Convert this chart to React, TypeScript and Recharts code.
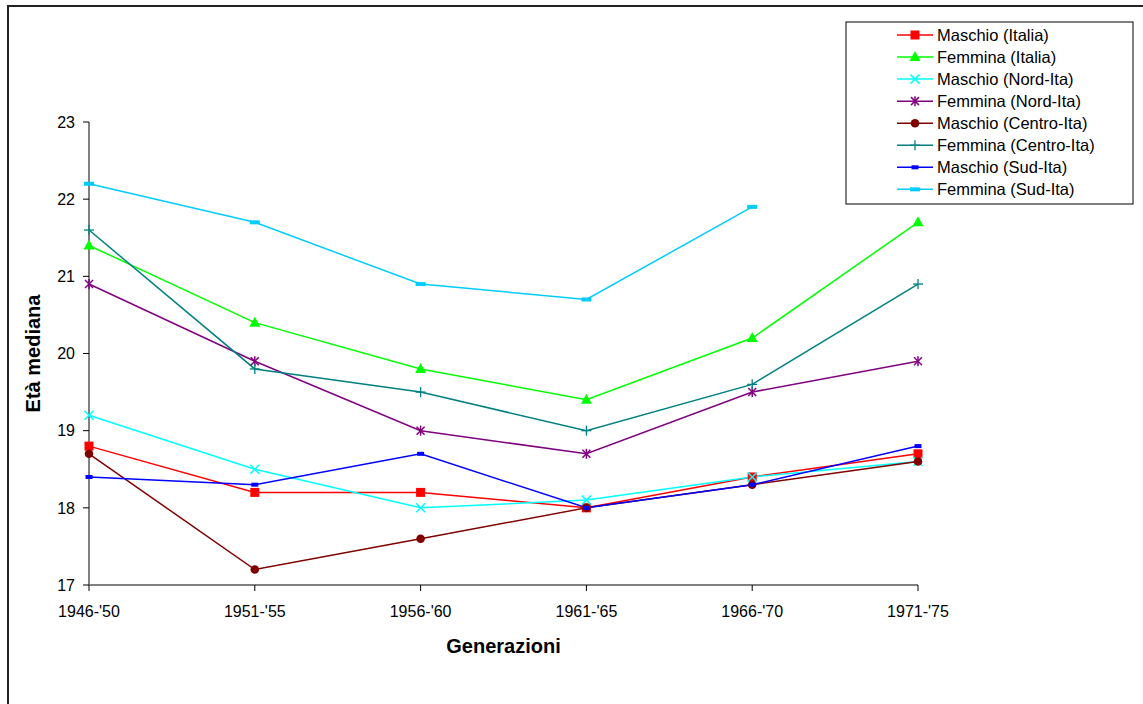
import React from 'react'
import { LineChart, Line, XAxis, YAxis } from 'recharts'

// Generazioni (x categories) and Y ticks
const CATEGORIES = ["1946-'50", "1951-'55", "1956-'60", "1961-'65", "1966-'70", "1971-'75"]
const Y_TICKS = [17, 18, 19, 20, 21, 22, 23]

// Età mediana per serie
const MASCHIO_ITALIA = [18.8, 18.2, 18.2, 18.0, 18.4, 18.7]
const FEMMINA_ITALIA = [21.4, 20.4, 19.8, 19.4, 20.2, 21.7]
const MASCHIO_NORD = [19.2, 18.5, 18.0, 18.1, 18.4, 18.6]
const FEMMINA_NORD = [20.9, 19.9, 19.0, 18.7, 19.5, 19.9]
const MASCHIO_CENTRO = [18.7, 17.2, 17.6, 18.0, 18.3, 18.6]
const FEMMINA_CENTRO = [21.6, 19.8, 19.5, 19.0, 19.6, 20.9]
const MASCHIO_SUD = [18.4, 18.3, 18.7, 18.0, 18.3, 18.8]
const FEMMINA_SUD = [22.2, 21.7, 20.9, 20.7, 21.9, null]

type Shape = 'square' | 'triangle' | 'x' | 'star' | 'circle' | 'plus' | 'smallRect' | 'wideRect'

const SERIES: { key: string; name: string; color: string; shape: Shape; values: (number | null)[] }[] = [
  { key: 'mi', name: 'Maschio (Italia)', color: '#ff0000', shape: 'square', values: MASCHIO_ITALIA },
  { key: 'fi', name: 'Femmina (Italia)', color: '#00ff00', shape: 'triangle', values: FEMMINA_ITALIA },
  { key: 'mn', name: 'Maschio (Nord-Ita)', color: '#00ffff', shape: 'x', values: MASCHIO_NORD },
  { key: 'fn', name: 'Femmina (Nord-Ita)', color: '#800080', shape: 'star', values: FEMMINA_NORD },
  { key: 'mc', name: 'Maschio (Centro-Ita)', color: '#800000', shape: 'circle', values: MASCHIO_CENTRO },
  { key: 'fc', name: 'Femmina (Centro-Ita)', color: '#008080', shape: 'plus', values: FEMMINA_CENTRO },
  { key: 'ms', name: 'Maschio (Sud-Ita)', color: '#0000ff', shape: 'smallRect', values: MASCHIO_SUD },
  { key: 'fs', name: 'Femmina (Sud-Ita)', color: '#00ccff', shape: 'wideRect', values: FEMMINA_SUD },
]

const data = CATEGORIES.map((cat, i) => {
  const row: Record<string, string | number | null> = { cat }
  SERIES.forEach((s) => {
    row[s.key] = s.values[i]
  })
  return row
})

const FONT = '"Liberation Sans", Arial, sans-serif'

function Marker({ shape, color, cx, cy }: { shape: Shape; color: string; cx: number; cy: number }) {
  switch (shape) {
    case 'square':
      return <rect x={cx - 4.5} y={cy - 4.5} width={9} height={9} fill={color} />
    case 'triangle':
      return (
        <polygon
          points={`${cx},${cy - 6} ${cx - 5.5},${cy + 4} ${cx + 5.5},${cy + 4}`}
          fill={color}
        />
      )
    case 'x':
      return (
        <g stroke={color} strokeWidth={1.5}>
          <line x1={cx - 4.5} y1={cy - 4.5} x2={cx + 4.5} y2={cy + 4.5} />
          <line x1={cx - 4.5} y1={cy + 4.5} x2={cx + 4.5} y2={cy - 4.5} />
        </g>
      )
    case 'star':
      return (
        <g stroke={color} strokeWidth={1.5}>
          <line x1={cx - 4} y1={cy - 4} x2={cx + 4} y2={cy + 4} />
          <line x1={cx - 4} y1={cy + 4} x2={cx + 4} y2={cy - 4} />
          <line x1={cx} y1={cy - 5} x2={cx} y2={cy + 5} />
        </g>
      )
    case 'circle':
      return <circle cx={cx} cy={cy} r={4.3} fill={color} />
    case 'plus':
      return (
        <g stroke={color} strokeWidth={1.3}>
          <line x1={cx - 5} y1={cy} x2={cx + 5} y2={cy} />
          <line x1={cx} y1={cy - 5} x2={cx} y2={cy + 5} />
        </g>
      )
    case 'smallRect':
      return <rect x={cx - 3.5} y={cy - 2} width={7} height={4} fill={color} />
    case 'wideRect':
      return <rect x={cx - 5} y={cy - 2} width={10} height={4} fill={color} />
  }
  return null
}

function LegendBox() {
  return (
    <svg
      width={290}
      height={186}
      style={{ position: 'absolute', left: 845, top: 21, fontFamily: FONT }}
    >
      <rect x={1} y={1} width={287} height={182} fill="#fff" stroke="#000" strokeWidth={1} />
      {SERIES.map((s, i) => {
        const cy = 14 + i * 22.05
        return (
          <g key={s.key}>
            <line x1={52} y1={cy} x2={88} y2={cy} stroke={s.color} strokeWidth={1.5} />
            <Marker shape={s.shape} color={s.color} cx={70} cy={cy} />
            <text x={92} y={cy + 5.5} fontSize={16.5} fill="#000">
              {s.name}
            </text>
          </g>
        )
      })}
    </svg>
  )
}

export default function App() {
  return (
    <div
      style={{
        position: 'fixed',
        left: 0,
        top: 0,
        width: 1143,
        height: 704,
        overflow: 'hidden',
        background: '#fff',
        fontFamily: FONT,
      }}
    >
      {/* outer chart frame; right and bottom edges fall outside the picture */}
      <div
        style={{
          position: 'absolute',
          left: 7,
          top: 5,
          width: 1200,
          height: 800,
          borderLeft: '2px solid #222',
          borderTop: '2px solid #222',
        }}
      />
      <div style={{ position: 'absolute', left: 0, top: 0 }}>
        <LineChart
          width={1143}
          height={704}
          data={data}
          margin={{ top: 122, right: 225, bottom: 59, left: 0 }}
        >
          <XAxis
            dataKey="cat"
            height={60}
            interval={0}
            stroke="#000"
            tickSize={6}
            tickMargin={15}
            tick={{ fontSize: 16, fill: '#000', fontFamily: FONT }}
            label={{
              content: ({ viewBox }: any) => (
                <text
                  x={viewBox.x + viewBox.width / 2}
                  y={653}
                  textAnchor="middle"
                  fontSize={20}
                  fontWeight="bold"
                  fontFamily={FONT}
                  fill="#000"
                >
                  Generazioni
                </text>
              ),
            }}
          />
          <YAxis
            width={89}
            domain={[17, 23]}
            ticks={Y_TICKS}
            interval={0}
            axisLine={{ stroke: '#808080', strokeWidth: 2 }}
            tickLine={{ stroke: '#000' }}
            tickSize={6}
            tickMargin={8}
            tick={{ fontSize: 16, fill: '#000', fontFamily: FONT }}
            label={{
              content: ({ viewBox }: any) => {
                const cy = viewBox.y + viewBox.height / 2
                return (
                  <text
                    x={40}
                    y={cy}
                    transform={`rotate(-90 40 ${cy})`}
                    textAnchor="middle"
                    fontSize={20}
                    fontWeight="bold"
                    fontFamily={FONT}
                    fill="#000"
                  >
                    Età mediana
                  </text>
                )
              },
            }}
          />
          {SERIES.map((s) => (
            <Line
              key={s.key}
              dataKey={s.key}
              name={s.name}
              type="linear"
              stroke={s.color}
              strokeWidth={1.5}
              isAnimationActive={false}
              activeDot={false}
              dot={(p: any) =>
                p.cx == null || p.cy == null || p.value == null ? (
                  <g key={`${s.key}-${p.index}`} />
                ) : (
                  <Marker key={`${s.key}-${p.index}`} shape={s.shape} color={s.color} cx={p.cx} cy={p.cy} />
                )
              }
            />
          ))}
        </LineChart>
      </div>
      <LegendBox />
    </div>
  )
}
